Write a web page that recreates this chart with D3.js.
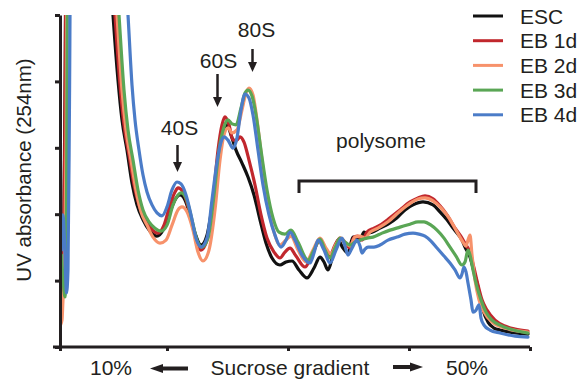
<!DOCTYPE html>
<html>
<head>
<meta charset="utf-8">
<script src="https://cdn.jsdelivr.net/npm/d3@7"></script>
<style>
  body { margin: 0; background: #fff; }
  text { font-family: "Liberation Sans", Arial, Helvetica, sans-serif; fill: #231f20; }
</style>
</head>
<body>
<svg id="chart" width="587" height="382"></svg>
<script>
// Polysome profiles: A254 (arbitrary absorbance units) along the sucrose gradient (mm from top)
const seriesNames = ["ESC", "EB 1d", "EB 2d", "EB 3d", "EB 4d"];

const esc = [[0.05,0.111],[0.2,0.142],[0.35,0.292],[0.5,0.744],[0.65,1.4],[4.5,1.4],[5.3,1.0],[5.8,0.804],[6.2,0.684],[6.7,0.593],[7.2,0.494],[7.7,0.428],[8.3,0.383],[9.0,0.349],[9.7,0.334],[10.3,0.352],[11.0,0.407],[11.5,0.443],[12.0,0.458],[12.5,0.443],[13.0,0.398],[13.5,0.343],[14.1,0.307],[14.7,0.337],[15.3,0.443],[15.8,0.563],[16.3,0.645],[16.7,0.669],[17.1,0.639],[17.6,0.593],[18.2,0.554],[18.8,0.512],[19.4,0.458],[20.0,0.383],[20.6,0.313],[21.2,0.268],[22.0,0.247],[22.6,0.256],[23.2,0.259],[23.9,0.232],[24.7,0.208],[25.4,0.238],[26.0,0.271],[26.4,0.256],[26.8,0.232],[27.3,0.277],[27.8,0.322],[28.3,0.298],[28.8,0.283],[29.3,0.331],[29.7,0.328],[30.0,0.322],[30.4,0.346],[30.7,0.343],[31.2,0.346],[32.0,0.358],[32.8,0.370],[33.7,0.389],[34.5,0.413],[35.3,0.428],[36.3,0.437],[37.3,0.428],[38.0,0.407],[38.7,0.383],[39.3,0.358],[39.7,0.343],[40.2,0.322],[40.5,0.301],[41.0,0.271],[41.4,0.226],[41.7,0.193],[42.0,0.151],[42.3,0.111],[42.8,0.075],[43.4,0.057],[44.0,0.051],[45.0,0.045],[46.8,0.039]];

const eb1d = [[0.05,0.105],[0.2,0.127],[0.35,0.232],[0.5,0.684],[0.65,1.4],[4.7,1.4],[5.5,1.0],[6.0,0.789],[6.4,0.669],[6.9,0.578],[7.4,0.488],[7.9,0.428],[8.5,0.389],[9.1,0.358],[9.8,0.343],[10.4,0.367],[11.0,0.428],[11.5,0.467],[11.8,0.479],[12.3,0.467],[12.9,0.413],[13.5,0.337],[14.1,0.292],[14.7,0.322],[15.3,0.443],[15.8,0.593],[16.2,0.669],[16.5,0.693],[16.9,0.669],[17.3,0.623],[17.7,0.623],[18.0,0.633],[18.4,0.617],[18.9,0.563],[19.5,0.488],[20.1,0.398],[20.7,0.328],[21.4,0.286],[22.0,0.268],[22.5,0.286],[23.0,0.298],[23.6,0.274],[24.5,0.241],[25.2,0.277],[26.0,0.322],[26.5,0.292],[27.0,0.277],[27.5,0.307],[28.0,0.328],[28.5,0.313],[29.0,0.298],[29.4,0.331],[29.8,0.334],[30.2,0.322],[30.7,0.346],[31.4,0.358],[32.0,0.367],[33.0,0.389],[34.0,0.413],[35.0,0.437],[35.8,0.449],[36.5,0.455],[37.3,0.446],[38.0,0.425],[38.7,0.398],[39.5,0.358],[40.2,0.328],[40.6,0.307],[41.0,0.286],[41.4,0.238],[41.8,0.187],[42.2,0.142],[42.7,0.111],[43.5,0.081],[44.5,0.063],[45.5,0.054],[46.8,0.048]];

const eb2d = [[0.05,0.066],[0.2,0.081],[0.3,0.142],[0.45,0.202],[0.6,0.593],[0.75,1.4],[4.9,1.4],[5.7,1.0],[6.2,0.774],[6.6,0.654],[7.1,0.563],[7.6,0.473],[8.1,0.407],[8.7,0.367],[9.3,0.331],[10.0,0.313],[10.6,0.322],[11.2,0.367],[11.8,0.413],[12.2,0.422],[12.7,0.407],[13.3,0.352],[13.8,0.286],[14.3,0.259],[14.9,0.292],[15.5,0.413],[16.0,0.563],[16.4,0.639],[16.8,0.660],[17.2,0.645],[17.7,0.654],[18.2,0.714],[18.6,0.765],[18.9,0.780],[19.3,0.759],[19.7,0.684],[20.2,0.563],[20.8,0.428],[21.4,0.346],[22.0,0.307],[22.6,0.322],[23.1,0.334],[23.8,0.292],[24.6,0.256],[25.3,0.292],[26.0,0.328],[26.6,0.298],[27.1,0.280],[27.6,0.310],[28.1,0.328],[28.6,0.313],[29.0,0.304],[29.5,0.331],[30.0,0.334],[30.5,0.328],[31.0,0.346],[31.8,0.358],[32.8,0.377],[33.8,0.404],[34.8,0.428],[35.8,0.446],[36.5,0.449],[37.3,0.440],[38.1,0.419],[38.9,0.389],[39.6,0.352],[40.3,0.316],[40.6,0.304],[40.8,0.322],[41.0,0.337],[41.2,0.277],[41.5,0.202],[41.9,0.142],[42.4,0.105],[43.2,0.075],[44.5,0.057],[46.8,0.045]];

const eb3d = [[0.15,0.277],[0.35,0.187],[0.5,0.151],[0.65,0.443],[0.8,1.4],[5.1,1.4],[5.9,1.0],[6.4,0.774],[6.8,0.654],[7.3,0.563],[7.8,0.473],[8.3,0.413],[8.9,0.377],[9.5,0.358],[10.1,0.349],[10.7,0.367],[11.3,0.428],[11.8,0.458],[12.1,0.464],[12.6,0.449],[13.2,0.383],[13.7,0.322],[14.2,0.301],[14.8,0.328],[15.4,0.458],[15.9,0.593],[16.4,0.663],[16.8,0.684],[17.2,0.672],[17.6,0.669],[18.1,0.720],[18.5,0.765],[18.8,0.774],[19.2,0.756],[19.6,0.699],[20.1,0.593],[20.7,0.473],[21.3,0.389],[21.9,0.346],[22.5,0.340],[23.1,0.352],[23.8,0.316],[24.8,0.262],[25.4,0.292],[26.0,0.325],[26.5,0.292],[27.0,0.268],[27.5,0.298],[28.0,0.328],[28.5,0.316],[29.0,0.307],[29.5,0.316],[30.0,0.322],[30.7,0.328],[31.3,0.331],[32.2,0.343],[33.0,0.352],[34.0,0.361],[35.0,0.370],[35.8,0.377],[36.4,0.377],[37.1,0.367],[37.7,0.352],[38.4,0.328],[39.0,0.301],[39.6,0.274],[40.2,0.247],[40.5,0.256],[40.8,0.292],[41.0,0.277],[41.3,0.232],[41.7,0.181],[42.1,0.142],[42.6,0.105],[43.2,0.081],[44.0,0.066],[45.0,0.054],[46.8,0.042]];

const eb4d = [[0.15,0.292],[0.3,0.398],[0.45,0.322],[0.65,0.163],[0.8,0.232],[0.95,0.744],[1.1,1.4],[6.0,1.4],[6.8,1.0],[7.2,0.789],[7.5,0.684],[7.9,0.593],[8.3,0.518],[8.7,0.467],[9.2,0.428],[9.7,0.404],[10.2,0.395],[10.7,0.422],[11.2,0.473],[11.7,0.497],[12.1,0.491],[12.6,0.458],[13.1,0.398],[13.6,0.328],[14.1,0.301],[14.7,0.328],[15.2,0.443],[15.7,0.557],[16.1,0.617],[16.4,0.633],[16.8,0.623],[17.3,0.599],[17.7,0.630],[18.1,0.714],[18.5,0.762],[18.9,0.750],[19.3,0.699],[19.8,0.593],[20.3,0.488],[20.9,0.398],[21.5,0.337],[22.1,0.301],[22.6,0.322],[23.0,0.346],[23.5,0.322],[24.2,0.277],[25.0,0.253],[25.4,0.283],[25.8,0.322],[26.4,0.292],[27.0,0.253],[27.6,0.292],[28.2,0.328],[28.5,0.304],[28.8,0.277],[29.2,0.298],[29.7,0.322],[30.0,0.304],[30.2,0.283],[30.5,0.295],[30.8,0.301],[31.4,0.301],[32.0,0.307],[32.8,0.322],[33.7,0.331],[34.5,0.340],[35.3,0.343],[35.9,0.340],[36.5,0.334],[37.1,0.319],[37.7,0.298],[38.4,0.274],[39.0,0.253],[39.5,0.232],[40.0,0.208],[40.2,0.220],[40.4,0.241],[40.6,0.226],[40.8,0.193],[41.1,0.142],[41.3,0.105],[41.6,0.111],[41.9,0.127],[42.1,0.087],[42.4,0.066],[43.0,0.051],[44.0,0.042],[45.5,0.033],[46.8,0.030]];

const seriesValues = [esc, eb1d, eb2d, eb3d, eb4d];

// Axis ticks (unlabelled)
const xTicks = [0, 10.7, 22.8, 34.9, 47];
const yTicks = [0, 0.2, 0.4, 0.6, 0.8, 1.0];

// Peak annotations: label and gradient position of the peak
const peakLabels = ["40S", "60S", "80S"];
const peakPositions = [11.75, 15.75, 19.25];
// Polysome region along the gradient
const polysomeRange = [23.9, 41.6];

const palette = ["#111111", "#c1272d", "#f7926b", "#5aa655", "#4b7cc8"];
const FONT = 21;

const svg = d3.select("#chart");
const margin = { left: 60, right: 57, top: 15, bottom: 35 };
const W = 587, H = 382;

const x = d3.scaleLinear().domain([0, 47]).range([margin.left, W - margin.right]);
const y = d3.scaleLinear().domain([0, 1]).range([H - margin.bottom, margin.top]);

svg.append("defs").append("clipPath").attr("id", "plot-clip")
  .append("rect")
  .attr("x", x(0)).attr("y", y(1))
  .attr("width", x(47) - x(0) + 4).attr("height", y(0) - y(1));

// Traces
const line = d3.line()
  .x(d => x(d[0]))
  .y(d => y(d[1]))
  .curve(d3.curveMonotoneX);

const traces = svg.append("g").attr("clip-path", "url(#plot-clip)");
seriesValues.forEach((vals, i) => {
  traces.append("path")
    .datum(vals)
    .attr("d", line)
    .attr("fill", "none")
    .attr("stroke", palette[i])
    .attr("stroke-width", 3.2)
    .attr("stroke-linejoin", "round")
    .attr("stroke-linecap", "round");
});

// Axes
const yAxis = svg.append("g")
  .attr("transform", `translate(${x(0)},0)`)
  .call(d3.axisLeft(y).tickValues(yTicks).tickSize(5).tickSizeOuter(0).tickFormat(""));
const xAxis = svg.append("g")
  .attr("transform", `translate(0,${y(0)})`)
  .call(d3.axisBottom(x).tickValues(xTicks).tickSize(4).tickSizeOuter(0).tickFormat(""));
[xAxis, yAxis].forEach(g => {
  g.selectAll("path.domain").attr("stroke", "#231f20").attr("stroke-width", 3);
  g.selectAll(".tick line").attr("stroke", "#231f20").attr("stroke-width", 3);
});
xAxis.select("path.domain").attr("d", `M${x(0) - 7},0H${x(47)}`);

// Y axis title
svg.append("text")
  .attr("transform", `translate(24,170) rotate(-90)`)
  .attr("text-anchor", "middle")
  .attr("dy", "0.35em")
  .attr("font-size", 20.5)
  .text("UV absorbance (254nm)");

// Arrow helper
function arrow(g, x1, y1, x2, y2, head, halfW, width) {
  const ang = Math.atan2(y2 - y1, x2 - x1);
  const bx = x2 - head * Math.cos(ang), by = y2 - head * Math.sin(ang);
  g.append("line")
    .attr("x1", x1).attr("y1", y1).attr("x2", bx).attr("y2", by)
    .attr("stroke", "#231f20").attr("stroke-width", width);
  const px = -Math.sin(ang) * halfW, py = Math.cos(ang) * halfW;
  g.append("path")
    .attr("d", `M${x2},${y2}L${bx + px},${by + py}L${bx - px},${by - py}Z`)
    .attr("fill", "#231f20");
}

// Peak annotations
const ann = svg.append("g");
const labelBase = [135, 68, 37];
const arrowSpan = [[145, 172], [74, 107], [49, 72]];
const labelShift = [2, 1, 4];
peakLabels.forEach((lab, i) => {
  const px = x(peakPositions[i]);
  ann.append("text")
    .attr("x", px + labelShift[i]).attr("y", labelBase[i])
    .attr("text-anchor", "middle")
    .attr("font-size", FONT)
    .text(lab);
  arrow(ann, px, arrowSpan[i][0], px, arrowSpan[i][1], 10, 4.5, 2.5);
});

// Polysome bracket
const bx0 = x(polysomeRange[0]), bx1 = x(polysomeRange[1]);
ann.append("path")
  .attr("d", `M${bx0},193V181H${bx1}V193`)
  .attr("fill", "none")
  .attr("stroke", "#231f20")
  .attr("stroke-width", 3);
ann.append("text")
  .attr("x", 381).attr("y", 148)
  .attr("text-anchor", "middle")
  .attr("font-size", FONT)
  .text("polysome");

// Gradient direction label
const xl = svg.append("g");
xl.append("text").attr("x", 111).attr("y", 375).attr("text-anchor", "middle").attr("font-size", FONT).text("10%");
xl.append("text").attr("x", 290).attr("y", 375).attr("text-anchor", "middle").attr("font-size", FONT).text("Sucrose gradient");
xl.append("text").attr("x", 467).attr("y", 375).attr("text-anchor", "middle").attr("font-size", FONT).text("50%");
arrow(xl, 188, 368.5, 150, 368.5, 13, 4.5, 4);
arrow(xl, 393, 367, 423, 367, 13, 4.5, 4);

// Legend
const legend = svg.append("g");
seriesNames.forEach((name, i) => {
  const ly = 16 + i * 24.7;
  legend.append("line")
    .attr("x1", 473).attr("x2", 503).attr("y1", ly).attr("y2", ly)
    .attr("stroke", palette[i]).attr("stroke-width", 3);
  legend.append("text")
    .attr("x", 520).attr("y", ly)
    .attr("dy", "0.36em")
    .attr("font-size", FONT)
    .text(name);
});
</script>
</body>
</html>
